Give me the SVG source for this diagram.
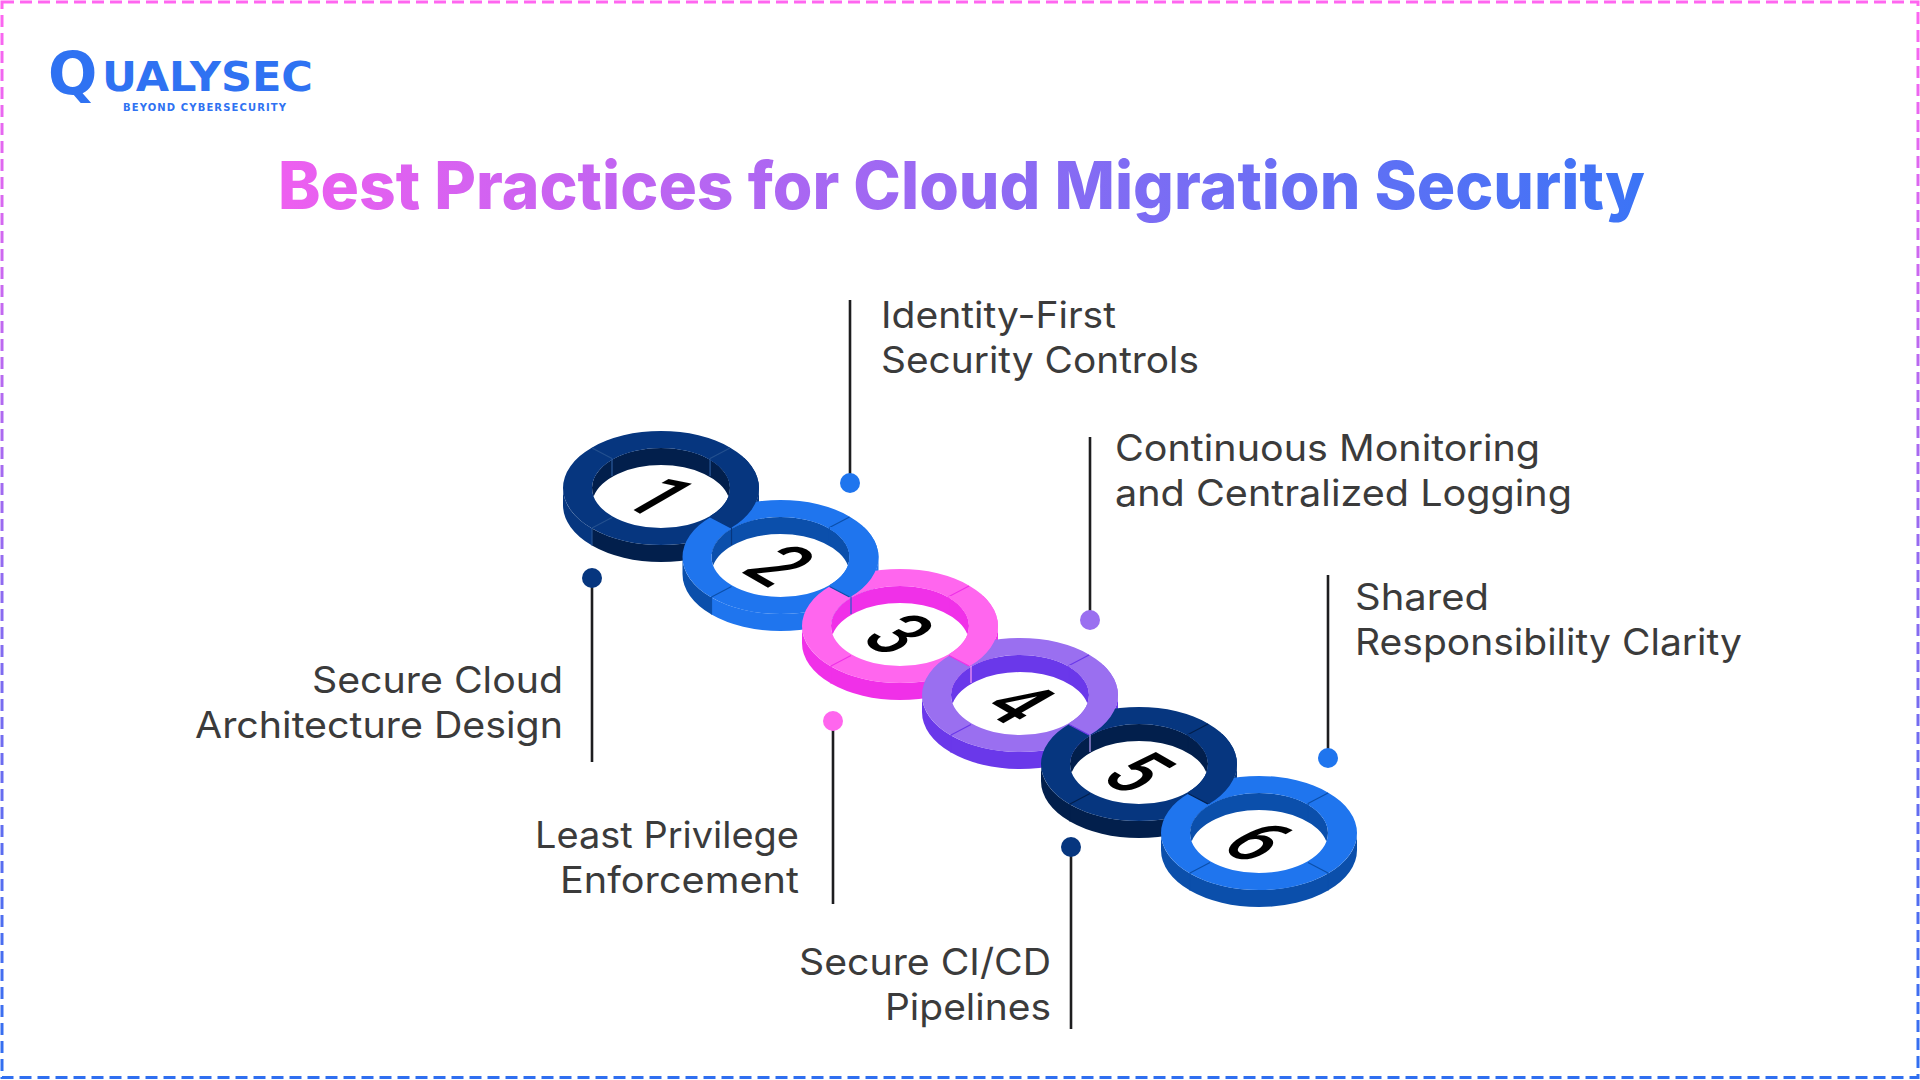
<svg xmlns="http://www.w3.org/2000/svg" xmlns:xlink="http://www.w3.org/1999/xlink" width="1920" height="1080" viewBox="0 0 1920 1080">
<style>
.lbl{font-family:"Inter","Open Sans","Liberation Sans",sans-serif;font-size:37px;font-weight:400;fill:#3b3b3b}
.dig{font-family:"Roboto","Liberation Sans",Arial,sans-serif;font-size:84px;font-weight:500;fill:#000;text-anchor:middle}
.ln{stroke:#1d1d1f;stroke-width:2.6;fill:none}
.cut{stroke-width:1.2;fill:none}
</style>
<defs>
<linearGradient id="bd" gradientUnits="userSpaceOnUse" x1="0" y1="0" x2="0" y2="1080"><stop offset="0" stop-color="#ff66f0"/><stop offset="1" stop-color="#2f6ff0"/></linearGradient>
<linearGradient id="tt" gradientUnits="userSpaceOnUse" x1="278" y1="0" x2="1645" y2="0"><stop offset="0" stop-color="#ee5ff0"/><stop offset="1" stop-color="#3b74f6"/></linearGradient>
<path id="top" fill-rule="evenodd" d="M-98,0A98,57 0 1,1 98,0A98,57 0 1,1 -98,0ZM-69,0A69,40 0 1,0 69,0A69,40 0 1,0 -69,0Z"/>
<path id="sl" d="M-98,0A98,57 0 0,0 -69,40.5L-69,57.5A98,57 0 0,1 -98,17Z"/>
<path id="sb" d="M-69,40.5A98,57 0 0,0 69,40.5L69,57.5A98,57 0 0,1 -69,57.5Z"/>
<path id="sr" d="M69,40.5A98,57 0 0,0 98,0L98,17A98,57 0 0,1 69,57.5Z"/>
<path id="wall" d="M-67.4,8.5A69,40 0 1,1 67.4,8.5A69,40 0 0,0 -67.4,8.5Z"/>
<ellipse id="hole" rx="69" ry="40" fill="#fff"/>
<path id="cuts" d="M-69,-40L-49,-29.5M69,-40L49,-29.5M49,-29.5V-12M-49,29.5L-69,40M-69,40V57.5M69,40V57.5"/>
<path id="wc" d="M-49,-29.5V-12"/>
<path id="oc" d="M49,29.5L69,40"/>
<clipPath id="seg"><path d="M49,29.5L69,40L110,40V-30H49Z"/></clipPath>
</defs>
<rect width="1920" height="1080" fill="#fff"/>
<rect id="border" x="2" y="2" width="1916" height="1075.5" fill="none" stroke="url(#bd)" stroke-width="3" stroke-dasharray="12 6"/>
<g id="logo" fill="#2f72f2" font-family="'DejaVu Sans','Liberation Sans',sans-serif" font-weight="700">
<text font-size="41"><tspan x="48" y="94" font-size="58">Q</tspan><tspan x="102" y="91" textLength="211" lengthAdjust="spacingAndGlyphs">UALYSEC</tspan></text>
<text x="123" y="111" font-size="10" textLength="163">BEYOND CYBERSECURITY</text>
</g>
<text id="title" x="278" y="209" font-family="Inter,'Liberation Sans',sans-serif" font-size="66" font-weight="800" fill="url(#tt)" textLength="1367" lengthAdjust="spacingAndGlyphs">Best Practices for Cloud Migration Security</text>

<g id="connectors">
<line class="ln" x1="592" y1="578" x2="592" y2="762"/><circle cx="592" cy="578" r="10" fill="#06367f"/>
<line class="ln" x1="850" y1="300" x2="850" y2="483"/><circle cx="850" cy="483" r="10" fill="#1f75ee"/>
<line class="ln" x1="833" y1="721" x2="833" y2="904"/><circle cx="833" cy="721" r="10" fill="#ff66ee"/>
<line class="ln" x1="1090" y1="437" x2="1090" y2="620"/><circle cx="1090" cy="620" r="10" fill="#9a6ff0"/>
<line class="ln" x1="1071" y1="847" x2="1071" y2="1029"/><circle cx="1071" cy="847" r="10" fill="#06367f"/>
<line class="ln" x1="1328" y1="575" x2="1328" y2="758"/><circle cx="1328" cy="758" r="10" fill="#1f75ee"/>
</g>

<g id="ring-1" transform="translate(661 488)">
<use href="#hole"/><use href="#wall" fill="#021f4c"/><use href="#sl" fill="#06367f"/><use href="#sb" fill="#021f4c"/><use href="#sr" fill="#06367f"/><use href="#top" fill="#06367f"/>
<use href="#cuts" class="cut" stroke="#23508f"/><use href="#wc" class="cut" stroke="#2c5a9c"/>
<text class="dig" transform="translate(0 8) matrix(.65 .375 -.866 .5 0 0)" y="30">1</text>
</g>
<g id="ring-2" transform="translate(780.5 557)">
<use href="#hole"/><use href="#wall" fill="#0b4fab"/><use href="#sl" fill="#0b4fab"/><use href="#sb" fill="#1f75ee"/><use href="#sr" fill="#1f75ee"/><use href="#top" fill="#1f75ee"/>
<use href="#cuts" class="cut" stroke="#0b4fab"/><use href="#wc" class="cut" stroke="#06367f"/>
<text class="dig" transform="translate(0 8) matrix(.65 .375 -.866 .5 0 0)" y="30">2</text>
</g>
<g id="ring-3" transform="translate(900 626)">
<use href="#hole"/><use href="#wall" fill="#f030e8"/><use href="#sl" fill="#f030e8"/><use href="#sb" fill="#f030e8"/><use href="#sr" fill="#f030e8"/><use href="#top" fill="#ff66ee"/>
<use href="#cuts" class="cut" stroke="#f030e8"/><use href="#wc" class="cut" stroke="#1f5fc8"/>
<text class="dig" transform="translate(0 8) matrix(.65 .375 -.866 .5 0 0)" y="30">3</text>
</g>
<g id="ring-4" transform="translate(1020 695)">
<use href="#hole"/><use href="#wall" fill="#6a38ea"/><use href="#sl" fill="#6a38ea"/><use href="#sb" fill="#6a38ea"/><use href="#sr" fill="#6a38ea"/><use href="#top" fill="#9a6ff0"/>
<use href="#cuts" class="cut" stroke="#6a38ea"/><use href="#wc" class="cut" stroke="#ff9af4"/>
<text class="dig" transform="translate(0 8) matrix(.65 .375 -.866 .5 0 0)" y="30">4</text>
</g>
<g id="ring-5" transform="translate(1139 764)">
<use href="#hole"/><use href="#wall" fill="#021f4c"/><use href="#sl" fill="#021f4c"/><use href="#sb" fill="#021f4c"/><use href="#sr" fill="#06367f"/><use href="#top" fill="#06367f"/>
<use href="#cuts" class="cut" stroke="#021f4c"/><use href="#wc" class="cut" stroke="#b79cf5"/>
<text class="dig" transform="translate(0 8) matrix(.65 .375 -.866 .5 0 0)" y="30">5</text>
</g>
<g id="ring-6" transform="translate(1259 833)">
<use href="#hole"/><use href="#wall" fill="#0b4fab"/><use href="#sl" fill="#0b4fab"/><use href="#sb" fill="#0b4fab"/><use href="#sr" fill="#0b4fab"/><use href="#top" fill="#1f75ee"/>
<use href="#cuts" class="cut" stroke="#0b4fab"/><use href="#oc" class="cut" stroke="#0b4fab"/>
<text class="dig" transform="translate(0 8) matrix(.65 .375 -.866 .5 0 0)" y="30">6</text>
</g>

<g id="ring-overlaps">
<g transform="translate(661 488)"><use href="#top" fill="#06367f" clip-path="url(#seg)"/><use href="#cuts" class="cut" stroke="#23508f" clip-path="url(#seg)"/></g>
<g transform="translate(780.5 557)"><use href="#top" fill="#1f75ee" clip-path="url(#seg)"/><use href="#oc" class="cut" stroke="#0b4fab"/></g>
<g transform="translate(900 626)"><use href="#top" fill="#ff66ee" clip-path="url(#seg)"/><use href="#oc" class="cut" stroke="#f030e8"/></g>
<g transform="translate(1020 695)"><use href="#top" fill="#9a6ff0" clip-path="url(#seg)"/><use href="#oc" class="cut" stroke="#6a38ea"/></g>
<g transform="translate(1139 764)"><use href="#top" fill="#06367f" clip-path="url(#seg)"/><use href="#oc" class="cut" stroke="#021f4c"/></g>
</g>

<g id="label-1"><text class="lbl" x="312" y="693" textLength="251" lengthAdjust="spacingAndGlyphs">Secure Cloud</text><text class="lbl" x="195" y="738" textLength="368" lengthAdjust="spacingAndGlyphs">Architecture Design</text></g>
<g id="label-2"><text class="lbl" x="881" y="328" textLength="235" lengthAdjust="spacingAndGlyphs">Identity-First</text><text class="lbl" x="881" y="373" textLength="318" lengthAdjust="spacingAndGlyphs">Security Controls</text></g>
<g id="label-3"><text class="lbl" x="535" y="848" textLength="264" lengthAdjust="spacingAndGlyphs">Least Privilege</text><text class="lbl" x="560" y="893" textLength="239" lengthAdjust="spacingAndGlyphs">Enforcement</text></g>
<g id="label-4"><text class="lbl" x="1115" y="461" textLength="425" lengthAdjust="spacingAndGlyphs">Continuous Monitoring</text><text class="lbl" x="1115" y="506" textLength="457" lengthAdjust="spacingAndGlyphs">and Centralized Logging</text></g>
<g id="label-5"><text class="lbl" x="799" y="975" textLength="252" lengthAdjust="spacingAndGlyphs">Secure CI/CD</text><text class="lbl" x="885" y="1020" textLength="166" lengthAdjust="spacingAndGlyphs">Pipelines</text></g>
<g id="label-6"><text class="lbl" x="1355" y="610" textLength="134" lengthAdjust="spacingAndGlyphs">Shared</text><text class="lbl" x="1355" y="655" textLength="387" lengthAdjust="spacingAndGlyphs">Responsibility Clarity</text></g>
</svg>
